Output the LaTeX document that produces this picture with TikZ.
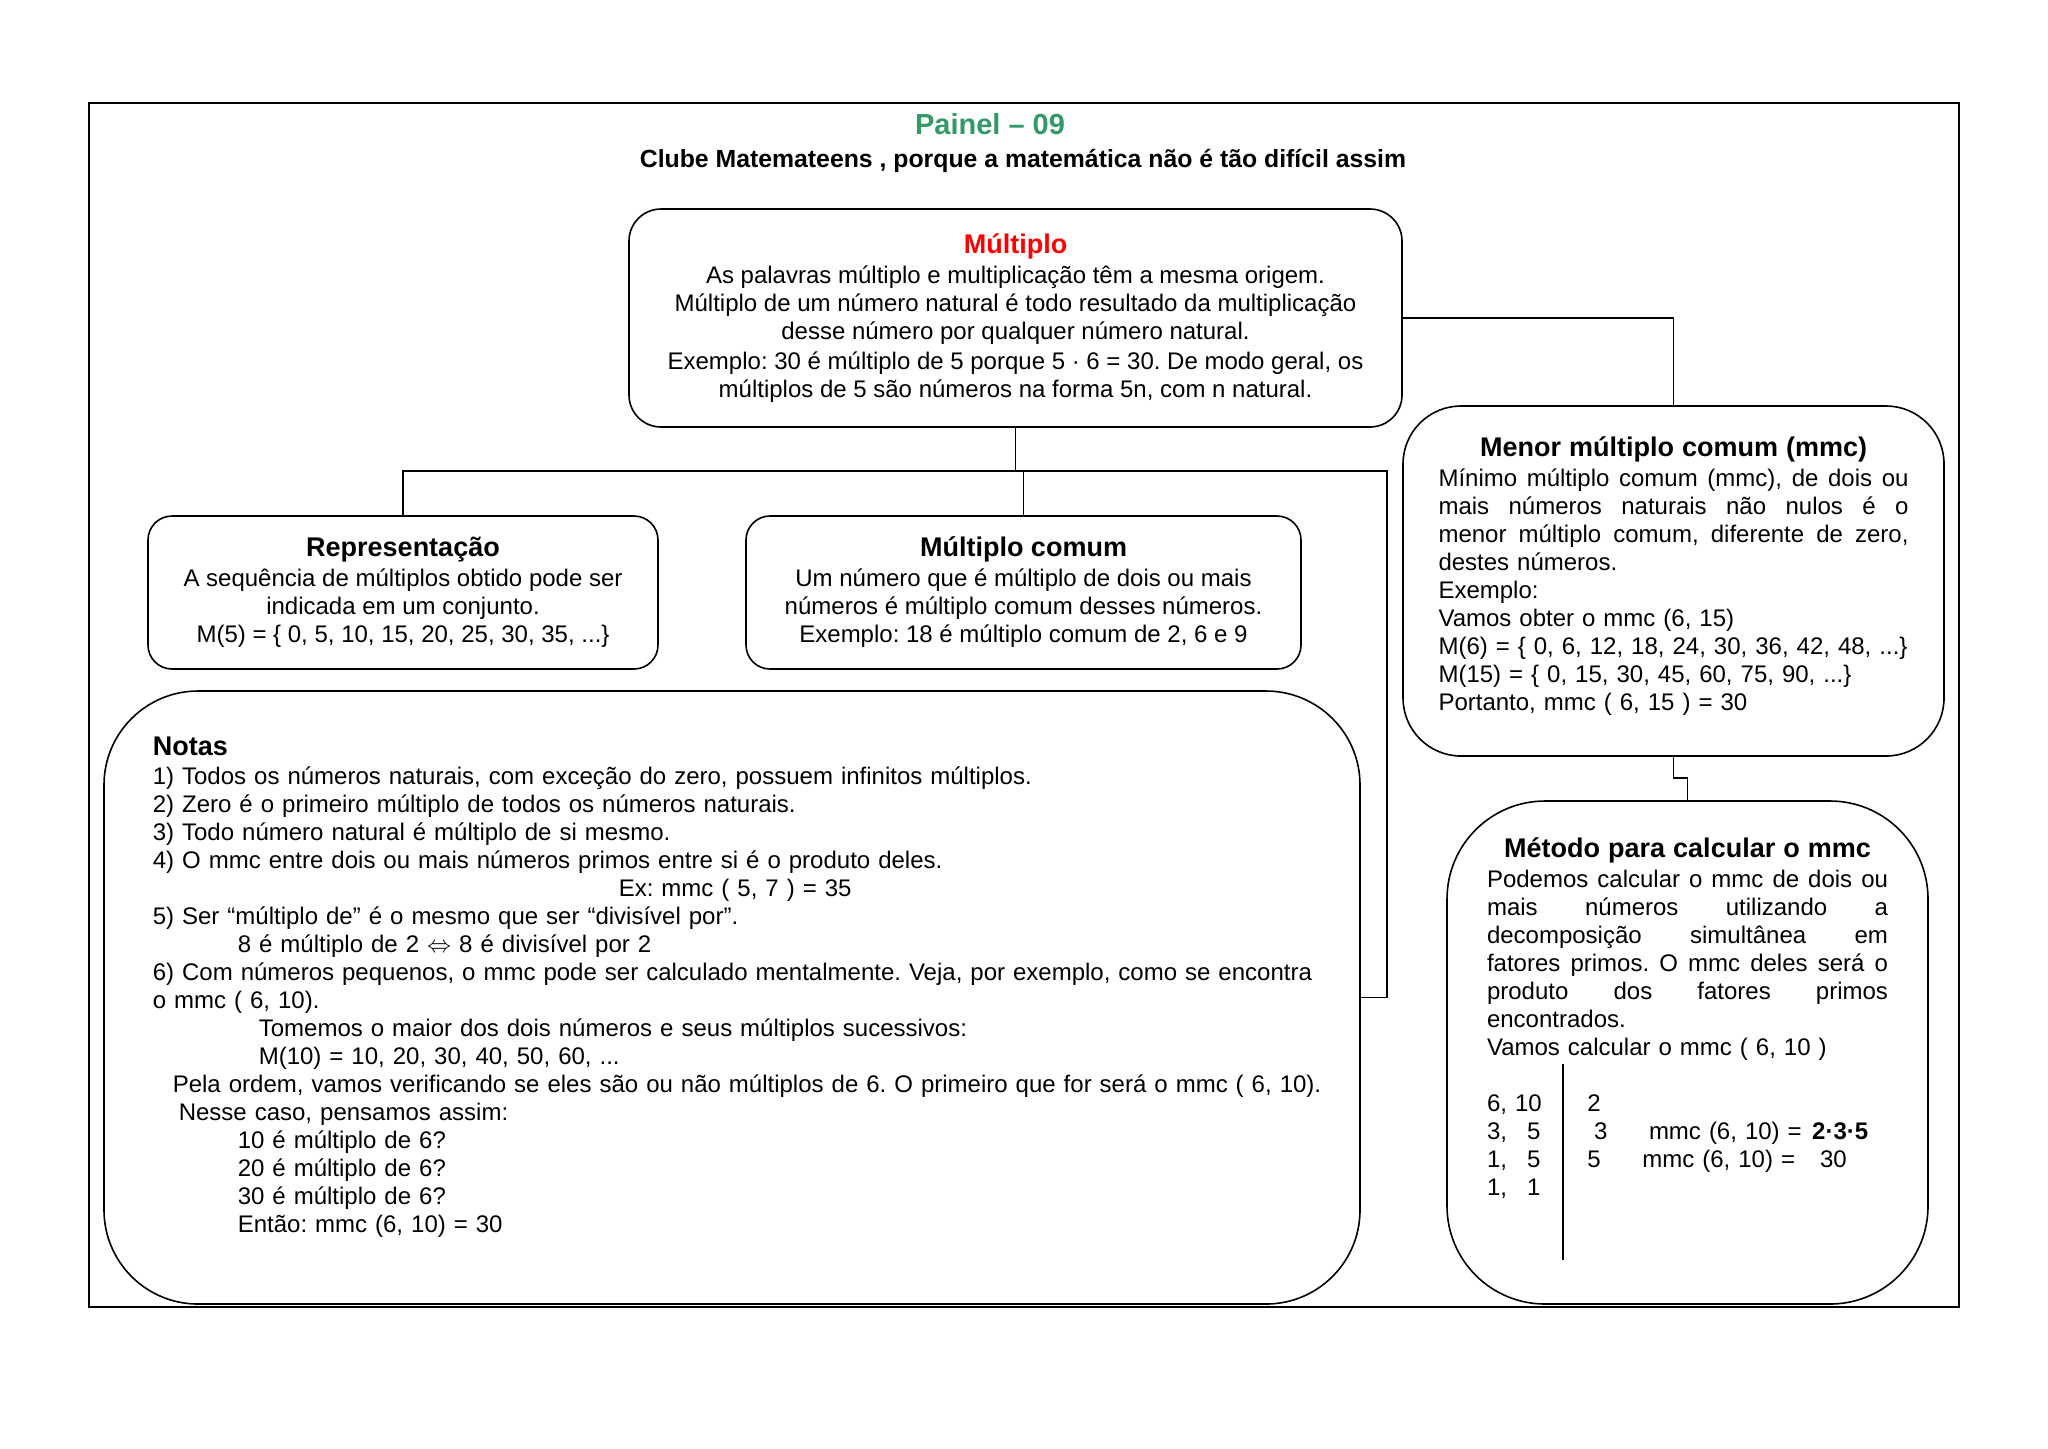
\documentclass[tikz,border=0pt]{standalone}
\usepackage{fontspec}
\setmainfont{Liberation Sans}
\usepackage{xcolor}
\usepackage{tikz}
\usetikzlibrary{positioning,calc}
\definecolor{painelgreen}{HTML}{339966}
\definecolor{multred}{HTML}{FF0000}
\newcommand{\jline}[1]{\makebox[\linewidth][s]{\spaceskip=0.278em plus 1fil\relax #1}}
\newcommand{\boxtitle}{\bfseries\fontsize{13.5}{15}\selectfont}
\frenchspacing

\begin{document}
\begin{tikzpicture}[x=0.5pt,y=-0.5pt, font=\fontsize{12}{14}\selectfont,
  cardbox/.style={draw, line width=0.8pt, inner sep=0pt, outer sep=0pt, align=center},
  cardtext/.style={inner sep=0pt, outer sep=0pt, align=left},
  link/.style={line width=0.7pt}]
\useasboundingbox (0,0) rectangle (2048,1448);
\draw[line width=1pt] (89,103) rectangle (1959,1307);

\node[font=\bfseries\fontsize{14.5}{16}\selectfont, text=painelgreen] (painel) at (990,124) {Painel – 09};
\node[font=\bfseries\fontsize{12.4}{14}\selectfont] (clube) at (1023,161) {Clube Matemateens , porque a matemática não é tão difícil assim};

\node[cardbox, rounded corners=16pt, anchor=north west, minimum width=386.5pt, minimum height=109pt] (mult) at (629,209) {{\boxtitle\color{multred}Múltiplo}\\[1pt] As palavras múltiplo e multiplicação têm a mesma origem.\\ Múltiplo de um número natural é todo resultado da multiplicação\\ desse número por qualquer número natural.\\[1pt] Exemplo: 30 é múltiplo de 5 porque 5 · 6 = 30. De modo geral, os\\ múltiplos de 5 são números na forma 5n, com n natural.};
\node[cardbox, rounded corners=12pt, anchor=north west, minimum width=255pt, minimum height=76.5pt] (rep) at (148,516) {{\boxtitle Representação}\\[1pt] A sequência de múltiplos obtido pode ser\\ indicada em um conjunto.\\ M(5) = \{ 0, 5, 10, 15, 20, 25, 30, 35, ...\}};
\node[cardbox, rounded corners=12pt, anchor=north west, minimum width=277.5pt, minimum height=76.5pt] (mc) at (746,516) {{\boxtitle Múltiplo comum}\\[1pt] Um número que é múltiplo de dois ou mais\\ números é múltiplo comum desses números.\\ Exemplo: 18 é múltiplo comum de 2, 6 e 9};
\node[cardbox, rounded corners=47pt, anchor=north west, minimum width=628pt, minimum height=306.5pt] (notas) at (104,691) {};
\node[cardbox, rounded corners=29pt, anchor=north west, minimum width=270.5pt, minimum height=175pt] (menor) at (1403,406) {};
\node[cardbox, rounded corners=49pt, anchor=north west, minimum width=240.5pt, minimum height=251.5pt] (metodo) at (1447,801) {};

\node[cardtext, text width=235pt, below=15.5pt of menor.north] (menortxt) {\makebox[\linewidth][c]{\boxtitle Menor múltiplo comum (mmc)}\\[1pt] \jline{Mínimo múltiplo comum (mmc), de dois ou}\\ \jline{mais números naturais não nulos é o}\\ \jline{menor múltiplo comum, diferente de zero,}\\ destes números.\\ Exemplo:\\ Vamos obter o mmc (6, 15)\\ M(6) = \{ 0, 6, 12, 18, 24, 30, 36, 42, 48, ...\}\\ M(15) = \{ 0, 15, 30, 45, 60, 75, 90, ...\}\\ Portanto, mmc ( 6, 15 ) = 30};
\node[cardtext, text width=605pt, below right=23pt and 24.4pt of notas.north west] (notastxt) {{\boxtitle Notas}\\[0.5pt] 1) Todos os números naturais, com exceção do zero, possuem infinitos múltiplos.\\ 2) Zero é o primeiro múltiplo de todos os números naturais.\\ 3) Todo número natural é múltiplo de si mesmo.\\ 4) O mmc entre dois ou mais números primos entre si é o produto deles.\\ \hspace*{233pt}Ex: mmc ( 5, 7 ) = 35\\ 5) Ser “múltiplo de” é o mesmo que ser “divisível por”.\\ \hspace*{42.5pt}8 é múltiplo de 2 $\Leftrightarrow$ 8 é divisível por 2\\ 6) Com números pequenos, o mmc pode ser calculado mentalmente. Veja, por exemplo, como se encontra\\ o mmc ( 6, 10).\\ \hspace*{53pt}Tomemos o maior dos dois números e seus múltiplos sucessivos:\\ \hspace*{53pt}M(10) = 10, 20, 30, 40, 50, 60, ...\\ \hspace*{10pt}Pela ordem, vamos verificando se eles são ou não múltiplos de 6. O primeiro que for será o mmc ( 6, 10).\\ \hspace*{13pt}Nesse caso, pensamos assim:\\ \hspace*{42.5pt}10 é múltiplo de 6?\\ \hspace*{42.5pt}20 é múltiplo de 6?\\ \hspace*{42.5pt}30 é múltiplo de 6?\\ \hspace*{42.5pt}Então: mmc (6, 10) = 30};
\node[cardtext, text width=200.5pt, below=18.2pt of metodo.north] (metodotxt) {\makebox[\linewidth][c]{\boxtitle Método para calcular o mmc}\\[1pt] \jline{Podemos calcular o mmc de dois ou}\\ \jline{mais números utilizando a}\\ \jline{decomposição simultânea em}\\ \jline{fatores primos. O mmc deles será o}\\ \jline{produto dos fatores primos}\\ encontrados.\\ Vamos calcular o mmc ( 6, 10 )\\ \mbox{}\\ \makebox[50.2pt][l]{6, 10}2\\ \makebox[53.6pt][l]{\makebox[26.7pt][s]{3,\hfill5}}\makebox[27.4pt][l]{3}\makebox[81.6pt][l]{mmc (6, 10) =}\textbf{2·3·5}\\ \makebox[50.2pt][l]{\makebox[26.7pt][s]{1,\hfill5}}\makebox[27.5pt][l]{5}\makebox[88.8pt][l]{mmc (6, 10) =}30\\ \makebox[26.7pt][s]{1,\hfill1}};
\draw[line width=0.8pt] ($(metodo.north west)+(116,263)$) -- ++(0,196);

\coordinate (busend) at (1387,471);
\draw[link] (mult.east) -| (menor.north);
\draw[link] (mult.south) |- (busend) |- (notas.east);
\draw[link] (rep.north) |- (mult.south |- busend);
\draw[link] (mc.north) -- (mc.north |- busend);
\draw[link] (menor.south) -- ++(0,22) -| (metodo.north);
\end{tikzpicture}
\end{document}
